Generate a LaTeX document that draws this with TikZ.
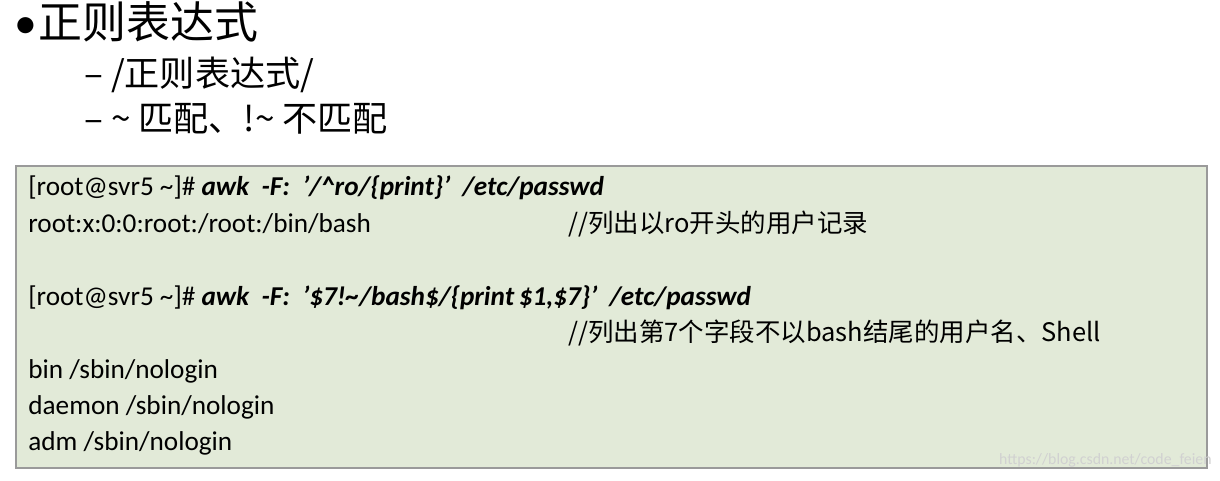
\documentclass[tikz,border=0pt]{standalone}
\usepackage{fontspec}
\setmainfont{Carlito}
\newfontfamily\cjk{Noto Sans CJK SC}
\newcommand\cmdfont{\bfseries\itshape}
\definecolor{boxfill}{HTML}{E2EAD8}
\definecolor{boxline}{HTML}{9A9A9A}
\begin{document}
\begin{tikzpicture}[x=0.02cm,y=-0.02cm,
    txt/.style={anchor=base west,inner sep=0pt,font=\fontsize{15.5}{18}\selectfont},
    note/.style={anchor=base west,inner sep=0pt,font=\cjk\fontsize{14.5}{18}\selectfont}]
                \useasboundingbox (0,0) rectangle (1220,480);
                \node[anchor=base west,inner sep=0pt,font=\fontsize{26}{30}\selectfont] (dot) at (14,38) {•};
                \node[anchor=base west,inner sep=0pt,font=\cjk\fontsize{25}{30}\selectfont] (title) at (38,38) {正则表达式};
                \node[anchor=base west,inner sep=0pt,font=\cjk\fontsize{20}{24}\selectfont] (sub1) at (84,86) {– /正则表达式/};
                \node[anchor=base west,inner sep=0pt,font=\cjk\fontsize{20}{24}\selectfont] (sub2) at (84,131) {– \textasciitilde{} 匹配、!\textasciitilde{} 不匹配};
                \draw[boxline,fill=boxfill,line width=1.2pt] (16,166) rectangle (1207,468);
                \node[txt] (cmd1) at (28,195) {[root@svr5 \textasciitilde]\# {\cmdfont awk\ \ -F:\ \ '/\textasciicircum ro/\{print\}'\ \ /etc/passwd}};
                \node[txt] (out1) at (28,232) {root:x:0:0:root:/root:/bin/bash};
                \node[note] (note1) at (568,232) {//列出以ro开头的用户记录};
                \node[txt] (cmd2) at (28,305) {[root@svr5 \textasciitilde]\# {\cmdfont awk\ \ -F:\ \ '\$7!\textasciitilde/bash\$/\{print\,\$1,\$7\}'\ \ /etc/passwd}};
                \node[note] (note2) at (568,341) {//列出第7个字段不以bash结尾的用户名、Shell};
                \node[txt] (out2) at (28,378) {bin /sbin/nologin};
                \node[txt] (out3) at (28,414) {daemon /sbin/nologin};
                \node[txt] (out4) at (28,450) {adm /sbin/nologin};
                \node[anchor=base east,inner sep=0pt,text=black!18,font=\fontsize{9}{10}\selectfont] (mark) at (1212,464) {https://blog.csdn.net/code\_feien};
            \end{tikzpicture}
\end{document}
